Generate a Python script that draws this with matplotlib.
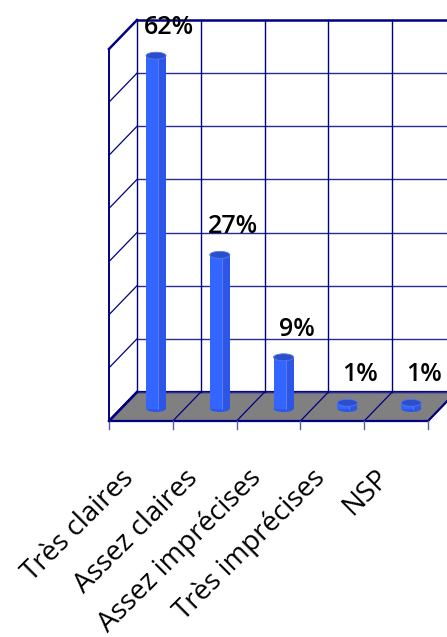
import matplotlib
matplotlib.use("Agg")
import matplotlib.pyplot as plt
from matplotlib.patches import Rectangle, Ellipse, Polygon
from matplotlib.transforms import Affine2D

# ---- data ---------------------------------------------------------------
categories = ["Très claires", "Assez claires", "Assez imprécises",
              "Très imprécises", "NSP"]
values = [62, 27, 9, 1, 1]
value_labels = ["62%", "27%", "9%", "1%", "1%"]

# ---- figure -------------------------------------------------------------
W, H = 447, 637
fig = plt.figure(figsize=(W / 100, H / 100), dpi=100)
ax = fig.add_axes([0, 0, 1, 1])
ax.set_xlim(0, W)
ax.set_ylim(H, 0)
ax.axis("off")

NAVY = "#000080"
GRID = "#2a2a94"
FLOOR = "#808080"
BLUE = "#3366ff"
BLUE_DARK = "#2d56e6"
CAP = "#2b4fcc"
FONT = ["Open Sans", "DejaVu Sans"]

# 3-D box geometry (back wall, floor, side wall)
back_x0, floor_back_y, top_y = 137.0, 392.0, 20.0
cat_w = 63.8
depth_dx, depth_dy = -28.0, 29.0
n_cat = len(categories)
n_grid = 7
grid_step = (floor_back_y - top_y) / n_grid
back_x1 = back_x0 + cat_w * n_cat

# floor
floor = Polygon([(back_x0, floor_back_y), (back_x1, floor_back_y),
                 (back_x1 + depth_dx, floor_back_y + depth_dy),
                 (back_x0 + depth_dx, floor_back_y + depth_dy)],
                closed=True, facecolor=FLOOR, edgecolor=NAVY, lw=1.6, zorder=1)
ax.add_patch(floor)

# back wall horizontal gridlines + side wall diagonals
for k in range(n_grid + 1):
    y = floor_back_y - k * grid_step
    lw = 1.8 if k == n_grid else 1.0
    ax.plot([back_x0, back_x1], [y, y], color=GRID if k < n_grid else NAVY,
            lw=lw, zorder=2, solid_capstyle="butt")
    ax.plot([back_x0 + depth_dx, back_x0], [y + depth_dy, y],
            color=NAVY, lw=1.8 if k in (0, n_grid) else 0.9, zorder=2)

# back wall verticals + floor diagonals + front ticks
for i in range(n_cat + 1):
    x = back_x0 + i * cat_w
    ax.plot([x, x], [top_y, floor_back_y], color=NAVY, lw=1.0, zorder=2)
    ax.plot([x, x + depth_dx], [floor_back_y, floor_back_y + depth_dy],
            color=NAVY, lw=0.9, zorder=2)
    fx = x + depth_dx
    ax.plot([fx, fx], [floor_back_y + depth_dy, floor_back_y + depth_dy + 8],
            color="#5a5ab0", lw=1.0, zorder=2)

# side wall front edge
ax.plot([back_x0 + depth_dx] * 2, [top_y + depth_dy, floor_back_y + depth_dy],
        color=NAVY, lw=1.4, zorder=2)

# ---- cylinders: (category index, percent) -> pixels ----------------------
px_per_pct = 5.69
base_y = 408.5
mid_x0 = back_x0 + cat_w * 0.5 + depth_dx * 0.46
bar_tr = Affine2D().scale(cat_w, -px_per_pct).translate(mid_x0, base_y) + ax.transData

cyl_w = 20.0 / cat_w
cap_h = 7.0 / px_per_pct

for i, (v, lab) in enumerate(zip(values, value_labels)):
    # base ellipse
    ax.add_patch(Ellipse((i, 0), cyl_w, cap_h, facecolor=BLUE_DARK,
                         edgecolor="none", transform=bar_tr, zorder=3))
    # body: light left part and slightly darker right part
    ax.add_patch(Rectangle((i - cyl_w / 2, 0), cyl_w * 0.6, v,
                           facecolor=BLUE, edgecolor="none",
                           transform=bar_tr, zorder=3))
    ax.add_patch(Rectangle((i + cyl_w * 0.1, 0), cyl_w * 0.4, v,
                           facecolor=BLUE_DARK, edgecolor="none",
                           transform=bar_tr, zorder=3))
    ax.plot([i + cyl_w * 0.1] * 2, [0, v], color="#6f8fff", lw=0.5,
            transform=bar_tr, zorder=3)
    # top cap
    ax.add_patch(Ellipse((i, v), cyl_w, cap_h, facecolor=CAP,
                         edgecolor="#5577ee", lw=0.6, transform=bar_tr, zorder=4))
    # value label
    ax.annotate(lab, xy=(i, v), xycoords=bar_tr, xytext=(13, 28),
                textcoords="offset pixels", ha="center", va="center",
                fontsize=18, fontweight="semibold", family=FONT,
                color="black", zorder=5)

# ---- category labels (rotated, ending under each category) ---------------
label_tr = Affine2D().scale(cat_w, 1).translate(
    back_x0 + depth_dx + cat_w * 0.5, 0) + ax.transData
for i, name in enumerate(categories):
    ax.annotate(name, xy=(i, floor_back_y + depth_dy), xycoords=label_tr,
                xytext=(-11, -53), textcoords="offset pixels",
                rotation=45, rotation_mode="anchor", ha="right", va="center",
                fontsize=20, family=FONT, color="black")

fig.savefig("out.png", dpi=100)
